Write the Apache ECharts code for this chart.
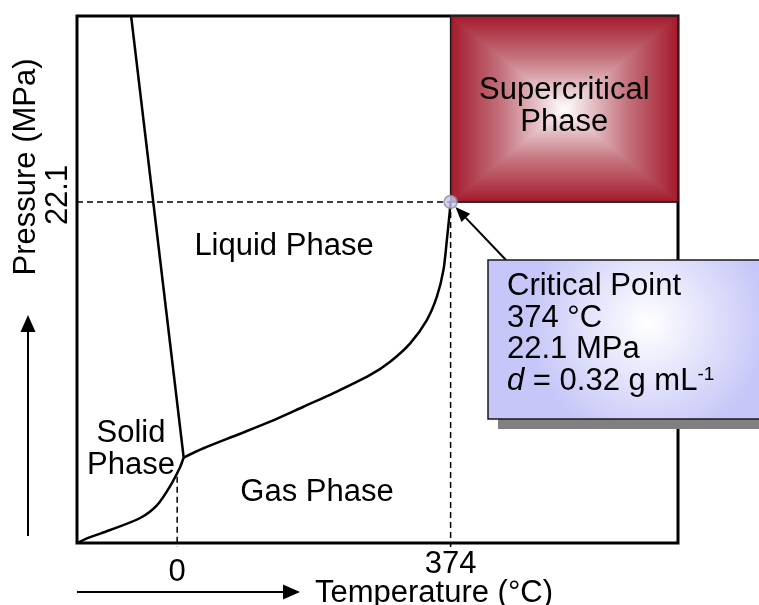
<!DOCTYPE html>
<html>
<head>
<meta charset="utf-8">
<script src="https://cdn.jsdelivr.net/npm/echarts@6/dist/echarts.min.js"></script>
<style>
html,body{margin:0;padding:0;background:#fff;}
#main{width:759px;height:605px;}
</style>
</head>
<body>
<div id="main"></div>
<script>
// ---- data (schematic phase diagram of water) ----
const xTicks = [0, 374];              // temperature tick labels (°C)
const yTicks = [22.1];                // pressure tick label (MPa)
const xRange = [-137, 685];
const yRange = [0, 34.15];
const fusionCurve = [[-63, 34.15], [8.9, 5.54]];
const sublimationCurve = [[-136.4, 0], [-123.5, 0.30], [-91.6, 0.84], [-50.6, 1.62], [-27.4, 2.46], [-9.6, 3.69], [4.1, 4.93], [8.9, 5.54]];
const vaporizationCurve = [[8.9, 5.54], [36, 6.14], [81.7, 7.0], [127.2, 7.86], [172.7, 8.83], [218.4, 9.81], [264, 10.89], [291.3, 11.75], [318.7, 12.94], [341.5, 14.45], [355.2, 15.96], [364.2, 17.69], [368.9, 19.64], [372.4, 21.26], [374, 22.1]];
const criticalPoint = [374, 22.1];
const supercriticalRegion = [[374, 22.1, 685, 34.15]];
const guidePressure = [[-137, 22.1], [374, 22.1]];
const guideCritTemp = [[374, 22.1], [374, -0.26]];
const guideFreeze = [[0, 4.3], [0, -0.26]];

const FONT = '"Liberation Sans", Arial, Helvetica, sans-serif';
const FS = 31;

const chart = echarts.init(document.getElementById('main'));

const dark = '#a3192b';
function bevel(x, y, x2, y2) {
  return new echarts.graphic.LinearGradient(x, y, x2, y2, [
    {offset: 0, color: dark},
    {offset: 0.45, color: '#c4737e'},
    {offset: 1, color: '#ffffff'}
  ]);
}
function tri(points, gx, gy, gx2, gy2) {
  return {type: 'polygon', shape: {points: points}, style: {fill: bevel(gx, gy, gx2, gy2), stroke: bevel(gx, gy, gx2, gy2), lineWidth: 1}};
}

const lineStyleSolid = {color: '#000', width: 2.5};
const dashStyle = {color: '#000', width: 1.5, type: [6, 4]};

chart.setOption({
  animation: false,
  backgroundColor: '#fff',
  grid: {left: 77, right: 81, top: 16, bottom: 62, outerBoundsMode: 'none', containLabel: false,
         show: true, borderColor: '#000', borderWidth: 3, backgroundColor: 'transparent'},
  xAxis: {
    type: 'value', min: xRange[0], max: xRange[1],
    axisLine: {show: false}, axisTick: {show: false}, splitLine: {show: false},
    axisLabel: {
      customValues: xTicks, margin: 6, color: '#000', fontSize: FS, fontFamily: FONT,
      formatter: function (v) { return v === xTicks[0] ? '{lo|' + v + '}' : '{hi|' + v + '}'; },
      rich: {lo: {fontSize: FS, fontFamily: FONT, color: '#000', padding: [8, 0, 0, 0]}, hi: {fontSize: FS, fontFamily: FONT, color: '#000'}}
    },
    name: 'Temperature (°C)', nameLocation: 'middle', nameGap: 35, nameMoveOverlap: false,
    nameTextStyle: {color: '#000', fontSize: FS, fontFamily: FONT, padding: [0, 0, 0, 113]}
  },
  yAxis: {
    type: 'value', min: yRange[0], max: yRange[1],
    axisLine: {show: false}, axisTick: {show: false}, splitLine: {show: false},
    axisLabel: {customValues: yTicks, rotate: 90, margin: 3, color: '#000', fontSize: FS, fontFamily: FONT, padding: [0, 0, 0, 14]},
    name: 'Pressure (MPa)', nameLocation: 'middle', nameGap: 35, nameMoveOverlap: false,
    nameTextStyle: {color: '#000', fontSize: FS, fontFamily: FONT, padding: [0, 0, 0, 225]}
  },
  series: [
    {
      type: 'custom', name: 'Supercritical', data: supercriticalRegion, z: 1,
      encode: {x: [0, 2], y: [1, 3]},
      renderItem: function (params, api) {
        const p0 = api.coord([api.value(0), api.value(1)]);
        const p1 = api.coord([api.value(2), api.value(3)]);
        const x0 = p0[0], y1 = p0[1], x1 = p1[0], y0 = p1[1];
        const cx = (x0 + x1) / 2, cy = (y0 + y1) / 2;
        return {
          type: 'group', children: [
            tri([[x0, y0], [x1, y0], [cx, cy]], 0, 0, 0, 1),
            tri([[x0, y1], [x1, y1], [cx, cy]], 0, 1, 0, 0),
            tri([[x0, y0], [x0, y1], [cx, cy]], 0, 0, 1, 0),
            tri([[x1, y0], [x1, y1], [cx, cy]], 1, 0, 0, 0),
            {type: 'rect', shape: {x: x0, y: y0, width: x1 - x0, height: y1 - y0}, style: {fill: 'none', stroke: '#1a1a1a', lineWidth: 1.5}},
            {type: 'text', style: {text: 'Supercritical\nPhase', x: cx, y: cy - 3, align: 'center', verticalAlign: 'middle', fontSize: FS, fontFamily: FONT, lineHeight: 32, fill: '#000'}}
          ]
        };
      }
    },
    {type: 'line', name: 'Fusion', data: fusionCurve, showSymbol: false, lineStyle: lineStyleSolid, z: 3},
    {type: 'line', name: 'Sublimation', data: sublimationCurve, showSymbol: false, smooth: 0.25, lineStyle: lineStyleSolid, z: 3},
    {type: 'line', name: 'Vaporization', data: vaporizationCurve, showSymbol: false, smooth: 0.25, lineStyle: lineStyleSolid, z: 3},
    {type: 'line', name: 'guide1', data: guidePressure, showSymbol: false, clip: false, lineStyle: dashStyle, z: 2},
    {type: 'line', name: 'guide2', data: guideCritTemp, showSymbol: false, clip: false, lineStyle: dashStyle, z: 2},
    {type: 'line', name: 'guide3', data: guideFreeze, showSymbol: false, clip: false, lineStyle: dashStyle, z: 2},
    {type: 'scatter', name: 'Critical point', data: [criticalPoint], symbol: 'circle', symbolSize: 13, z: 6,
     itemStyle: {color: '#c8c8f4', borderColor: '#8a8a8a', borderWidth: 1.5}}
  ]
});

// ---- annotations ----
const cp = chart.convertToPixel({gridIndex: 0}, criticalPoint);
const start = [506, 260];
let dx = cp[0] - start[0], dy = cp[1] - start[1];
const len = Math.sqrt(dx * dx + dy * dy);
dx /= len; dy /= len;
const tip = [cp[0] - dx * 7, cp[1] - dy * 7];
const base = [tip[0] - dx * 15, tip[1] - dy * 15];
const nx = -dy, ny = dx;

const textStyleBase = {fontSize: FS, fontFamily: FONT, fill: '#000'};

chart.setOption({
  graphic: [
    // region labels
    {type: 'text', x: 284, y: 246, z: 10, style: Object.assign({text: 'Liquid Phase', align: 'center', verticalAlign: 'middle'}, textStyleBase)},
    {type: 'text', x: 131, y: 449, z: 10, style: Object.assign({text: 'Solid\nPhase', align: 'center', verticalAlign: 'middle', lineHeight: 32}, textStyleBase)},
    {type: 'text', x: 317, y: 492, z: 10, style: Object.assign({text: 'Gas Phase', align: 'center', verticalAlign: 'middle'}, textStyleBase)},
    // axis direction arrows
    {type: 'line', z: 10, shape: {x1: 28, y1: 536, x2: 28, y2: 328}, style: {stroke: '#000', lineWidth: 2}},
    {type: 'polygon', z: 10, shape: {points: [[28, 315], [20.5, 332], [35.5, 332]]}, style: {fill: '#000'}},
    {type: 'line', z: 10, shape: {x1: 77, y1: 592, x2: 286, y2: 592}, style: {stroke: '#000', lineWidth: 2}},
    {type: 'polygon', z: 10, shape: {points: [[300, 592], [283, 584.5], [283, 599.5]]}, style: {fill: '#000'}},
    // callout arrow
    {type: 'line', z: 12, shape: {x1: start[0], y1: start[1], x2: base[0], y2: base[1]}, style: {stroke: '#000', lineWidth: 2}},
    {type: 'polygon', z: 12, shape: {points: [tip, [base[0] + nx * 6, base[1] + ny * 6], [base[0] - nx * 6, base[1] - ny * 6]]}, style: {fill: '#000'}},
    // callout box
    {type: 'rect', z: 13, shape: {x: 498, y: 270, width: 320, height: 159}, style: {fill: '#808080'}},
    {type: 'rect', z: 14, shape: {x: 488, y: 260, width: 320, height: 159},
     style: {fill: new echarts.graphic.RadialGradient(0.5, 0.4, 0.75, [{offset: 0, color: '#ffffff'}, {offset: 1, color: '#c6c6f8'}]), stroke: '#1a1a1a', lineWidth: 1.5}},
    {type: 'text', z: 15, x: 507, y: 271, style: {
      text: 'Critical Point\n374 °C\n22.1 MPa\n{i|d} = 0.32 g mL{s|-1}',
      fontSize: FS, fontFamily: FONT, fill: '#000', lineHeight: 31.5, verticalAlign: 'top', align: 'left',
      rich: {
        i: {fontSize: FS, fontFamily: FONT, fontStyle: 'italic', fill: '#000', lineHeight: 31.5},
        s: {fontSize: 19, fontFamily: FONT, fill: '#000', verticalAlign: 'top', lineHeight: 16}
      }
    }}
  ]
});
</script>
</body>
</html>
